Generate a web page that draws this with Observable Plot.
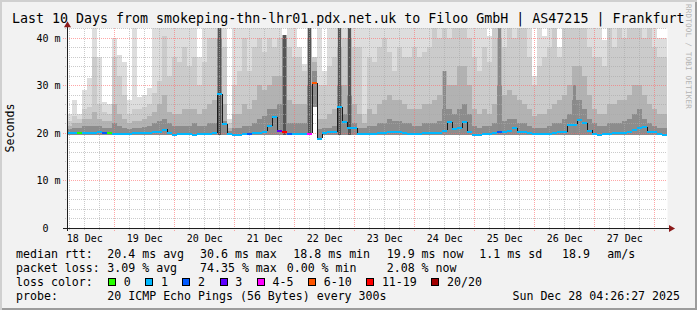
<!DOCTYPE html>
<html><head><meta charset="utf-8">
<script src="https://cdn.jsdelivr.net/npm/d3@7"></script>
<script src="https://cdn.jsdelivr.net/npm/@observablehq/plot@0.6"></script>
<style>
html,body{margin:0;padding:0;background:#f2f2f2;}
#frame{position:relative;width:697px;height:310px;background:#f2f2f2;overflow:hidden;font-family:"DejaVu Sans Mono",monospace;color:#000;
 box-shadow: inset 2px 2px 0 #d0d0d0, inset -2px -2px 0 #9c9c9c;}
#chart{position:absolute;left:0;top:0;}
.t{position:absolute;white-space:pre;}
#title{left:12px;top:11px;font-size:13.3px;line-height:16px;}
.lg{font-size:11.6px;line-height:14px;}
.box{position:absolute;width:6px;height:6px;border:1px solid #000;}
#ylab{left:-40px;top:121px;width:100px;height:14px;text-align:center;font-size:11.6px;line-height:14px;transform:rotate(-90deg);}
#rrd{left:684px;top:4px;font-size:7.6px;color:#b4b4b4;writing-mode:vertical-rl;letter-spacing:0.2px;}
</style></head>
<body>
<div id="frame">
  <div id="chart"></div>
</div>
<script>
// ---------- text ----------
const titleText = "Last 10 Days from smokeping-thn-lhr01.pdx.net.uk to Filoo GmbH | AS47215 | Frankfurt";
const yAxisTitle = "Seconds";
const dayLabels = ["18 Dec","19 Dec","20 Dec","21 Dec","22 Dec","23 Dec","24 Dec","25 Dec","26 Dec","27 Dec"];
const yTicks = [0, 10, 20, 30, 40];
const yTickLabels = ["0\u00a0\u00a0", "10 m", "20 m", "30 m", "40 m"];
const rttStats = ["20.4 ms avg", "30.6 ms max", "18.8 ms min", "19.9 ms now", "1.1 ms sd", "18.9", "am/s"];
const lossStats = ["3.09 % avg", "74.35 % max", "0.00 % min", "2.08 % now"];
const lossLabels = ["0", "1", "2", "3", "4-5", "6-10", "11-19", "20/20"];
const lossColors = ["#26ff00", "#00b8ff", "#0059ff", "#5e00ff", "#ff00ff", "#ff5500", "#ff0000", "#a10000"];
const lossUpper = [0, 1, 2, 3, 5, 10, 19, 20];
const probeText = "20 ICMP Echo Pings (56 Bytes) every 300s";
const stampText = "Sun Dec 28 04:26:27 2025";

// ---------- data: 2-hour bins, values in ms ----------
const smokeLow = [
 19.5,19.5,19.5,19.5,19.5,19.5,19.5,19.5,19.5,19.5,
 19.5,19.5,19.5,19.5,19.5,19.5,19.5,19.5,19.5,19.5,19.5,19.5,
 19.5,19.5,19.5,19.5,19.5,19.5,19.5,19.5,19.5,19.5,19.5,19.5,
 19.5,19.5,19.5,19.5,19.5,19.5,19.5,19.5,19.5,19.5,19.5,19.5,
 19.5,19.5,19.5,25.5,18.6,19.5,19.5,19.5,19.5,19.5,19.5,19.5,
 19.5,19.5,19.5,19.5,19.5,19.5,19.5,19.5,19.5,19.5,19.5,19.5,
 19.5,19.5,19.5,19.5,19.5,19.5,19.5,19.5,19.5,19.5,19.5,19.5,
 19.5,19.5,19.5,19.5,19.5,19.5,19.5,19.5,19.5,19.5,19.5,19.5,
 19.5,19.5,19.5,19.5,19.5,19.5,19.5,19.5,19.5,19.5,19.5,19.5,
 19.5,19.5,19.5,19.5,19.5,19.5,19.5,19.5,19.5,19.5,19.5,19.5,
 19.5,19.5];
const smokeMax = [
 24,27,24,29,31.5,42,36,26.5,26,40,
 36.5,35,27,42,27.5,28,29.5,42,42,42,42,42,
 42,42,42,42,36,42,42,42,42,42,23,42,
 42,42,42,42,42,42,42,42,42,40.6,42,42,
 38,34.5,42,36,42,33,42,42,42,42,42,42,
 42,42,42,42,42,42,42,42,42,42,42,42,
 42,42,42,42,42,42,42,42,42,42,42,42,
 42,42,40.5,42,42,42,42,42,42,42,42,32,
 42,40.5,42,42,38,42,42,42,42,42,42,42,
 42,39.5,42,42,42,42,42,42,42,42,42,42,
 40,40];
const smokeP2 = [
 22.5,23.5,23,25,25.5,36,26,24.5,24,36,
 32,28,24,25,25,25.5,26,28.5,31,40.5,32,36,
 35,38,34,36,30,35,40,40,42,38,22,30,
 33,40,33,38,40,37,40,38,40,40.6,38,36,
 36,33,42,36,30,30,34,36,42,40,42,38,
 38,24,36,35,38,40,37,33,38,36,36,38,
 36,37,38,42,40,42,40,42,42,42,40,36,
 33,38,35,42,42,38,42,40,42,42,36,30,
 34,36,38,42,36,42,42,42,42,42,38,36,
 36,34,42,38,42,40,42,42,42,40,42,38,
 36,36];
const smokeP3 = [
 21.5,22,22,23,23,24.5,23,22.5,22.5,26,
 24,23,22,22.5,22.5,23,23.5,24.5,26,28,24.5,24,
 24,25,25,25,24,25,26,27,42,26,21,24,
 24,26,25,27,30,29,30,32,32,40.6,27,26,
 26,26,40,35,23,23,24,25,38,30,40,26,
 24,22,25,24,26,27,28,27,27,26,25,25,
 25,26,26,27,28,33,30,30,34,34,30,25,
 24,25,24,26,40,28,29,28,27,26,25,23.5,
 24,24,25,26,27,28,30,34,34,32,28,25,
 24,24,26,26,27,27,28,30,30,28,26,25,
 24,24];
const smokeP4 = [
 20.8,21,21,21.5,21.5,21.5,21.5,21,21,22,
 21.5,21,20.8,21,21,21.3,21.5,22,22.5,23,22,21.5,
 21.5,21.5,21.5,22,21.5,21.5,22,22,40,22.5,20.5,21,
 21,21.5,21.5,22,23,23.5,25,25,26,40,22,22,
 22,22,30,33,20.8,21,21,21.5,30,24,28,22,
 21,21,21.5,21.5,22,22,23,22.5,22.5,22,22,21.5,
 21.5,22,22,22,22.5,25,25,24,25,26,24,21.5,
 21,21.5,21.5,22,30,22.5,23,23,22,22,21.5,21,
 21,21,21.5,22,22,23,24,27,27,25,23,22,
 21.5,21.5,22,22,22,22.5,23,24,25,23,22,21.5,
 21,21];
const medianRtt = [
 20.0,20.0,20.1,20.1,20.1,20.2,20.3,20.2,20.0,19.8,
 19.8,19.8,19.8,20.0,20.0,20.0,20.1,20.3,20.3,20.8,20.0,19.7,
 19.8,19.8,19.8,19.7,19.8,19.8,19.9,20.0,28.3,21.9,19.8,19.7,
 19.7,19.8,19.9,20.0,20.2,20.4,21.5,23.4,20.6,20.3,19.9,19.9,
 19.9,19.9,19.9,30.6,18.9,20.2,20.4,20.3,25.5,22.4,21.2,21.1,
 19.9,19.9,19.9,19.9,20.0,20.2,20.4,20.4,20.3,20.0,19.9,19.9,
 19.9,20.0,20.2,20.1,20.2,20.6,22.4,21.0,21.1,22.4,20.4,19.7,
 19.7,19.8,19.8,20.2,20.4,20.3,20.5,21.1,20.3,20.3,20.2,19.8,
 19.8,19.8,19.9,20.2,20.3,20.3,21.8,21.8,22.8,22.2,20.6,19.9,
 19.7,19.8,19.9,20.1,20.0,20.1,20.3,20.8,21.2,21.3,20.4,20.3,
 19.8,19.7];
const lossCount = [
 1,1,0,1,1,1,1,2,0,1,
 1,1,1,1,1,1,1,1,1,1,1,1,
 1,1,1,1,1,1,1,1,1,1,1,1,
 1,1,2,1,1,1,1,1,3,15,2,1,
 1,1,5,8,1,1,1,1,1,1,1,1,
 1,1,1,1,1,1,1,1,1,1,1,1,
 1,1,1,1,1,1,1,1,1,1,1,1,
 1,1,1,1,2,1,1,1,1,1,1,1,
 1,1,1,1,1,1,1,1,1,1,1,1,
 1,1,1,1,1,1,1,1,1,1,1,1,
 1,1];
const darkBins = [30, 43, 48, 54, 56];
const darkTop = [42, 40.6, 42, 42, 42];
const midDarkBins = [75, 86, 101];
const midDarkTop = [33, 42, 30];

// ---------- build ----------
const HOUR = 3600e3;
const tStart = Date.UTC(2025, 11, 18, 5, 6);
const tEnd = tStart + 240 * HOUR;
const PX = 24 * 60e3; // one pixel of time
const lossColor = c => lossColors[lossUpper.findIndex(u => c <= u)];

const bins = medianRtt.map((m, k) => ({
  t1: new Date(tStart + k * 2 * HOUR), t2: new Date(tStart + (k + 1) * 2 * HOUR),
  lo: smokeLow[k], l1: smokeMax[k], l2: smokeP2[k], l3: smokeP3[k], l4: smokeP4[k],
  med: m, color: lossColor(lossCount[k])
}));
const darks = darkBins.map((k, i) => ({t1: bins[k].t1, t2: bins[k].t2, lo: bins[k].lo, hi: darkTop[i]}));
const midDarks = midDarkBins.map((k, i) => ({t1: bins[k].t1, t2: bins[k].t2, lo: bins[k].lo, hi: midDarkTop[i]}));
const steps = [];
for (let k = 1; k < bins.length; k++) {
  if (Math.abs(bins[k].med - bins[k - 1].med) > 0.7) steps.push({t: bins[k].t1, a: bins[k - 1].med, b: bins[k].med});
}

const midnights = d3.utcDay.range(new Date(tStart), new Date(tEnd));
const sixHours = d3.utcHour.every(6).range(new Date(tStart), new Date(tEnd)).filter(d => d.getUTCHours() !== 0);
const noons = dayLabels.map((s, i) => new Date(Date.UTC(2025, 11, 18 + i, 12)));
const majorY = [10, 20, 30, 40];
const minorY = [2,4,6,8,12,14,16,18,22,24,26,28,32,34,36,38,42];

const crisp = {shapeRendering: "crispEdges"};
const chart = Plot.plot({
  width: 697, height: 245,
  marginLeft: 67, marginRight: 30, marginTop: 28, marginBottom: 17,
  x: {type: "utc", domain: [new Date(tStart), new Date(tEnd)]},
  y: {domain: [0, 42.1]},
  style: {background: "transparent", fontFamily: "DejaVu Sans Mono", fontSize: "10px", color: "#000", overflow: "visible"},
  marks: [
    Plot.frame({fill: "#ffffff", stroke: null}),
    Plot.rect(bins, {x1: "t1", x2: "t2", y1: "lo", y2: "l1", fill: "#dddddd", ...crisp}),
    Plot.rect(bins, {x1: "t1", x2: "t2", y1: "lo", y2: "l2", fill: "#cbcbcb", ...crisp}),
    Plot.rect(bins, {x1: "t1", x2: "t2", y1: "lo", y2: "l3", fill: "#b2b2b2", ...crisp}),
    Plot.rect(bins, {x1: "t1", x2: "t2", y1: "lo", y2: "l4", fill: "#8c8c8c", ...crisp}),
    Plot.rect(midDarks, {x1: "t1", x2: "t2", y1: "lo", y2: "hi", fill: "#8a8a8a", insetLeft: 1, insetRight: 1, ...crisp}),
    Plot.rect(darks, {x1: "t1", x2: "t2", y1: "lo", y2: "hi", fill: "#555555", insetLeft: 1, insetRight: 1, ...crisp}),
    // minor grid
    Plot.ruleY(minorY, {x1: new Date(tStart - 2 * PX), x2: new Date(tEnd), stroke: "#a8a8a8", strokeOpacity: 0.6, strokeDasharray: "1,1", ...crisp}),
    Plot.ruleX(sixHours, {y1: -0.42, y2: 42.1, stroke: "#a8a8a8", strokeOpacity: 0.6, strokeDasharray: "1,1", ...crisp}),
    // major grid
    Plot.ruleY(majorY, {x1: new Date(tStart - 4 * PX), x2: new Date(tEnd), stroke: "#ff6a6a", strokeOpacity: 0.6, strokeDasharray: "1,1", ...crisp}),
    Plot.ruleX(midnights, {y1: -0.63, y2: 42.1, stroke: "#ff6a6a", strokeOpacity: 0.6, strokeDasharray: "1,1", ...crisp}),
    // median
    Plot.ruleX(steps, {x: "t", y1: "a", y2: "b", stroke: "#1a1a1a", strokeWidth: 1, ...crisp}),
    Plot.ruleY(bins, {x1: "t1", x2: "t2", y: "med", stroke: "color", strokeWidth: 2, ...crisp}),
    // axes
    Plot.ruleY([0], {x1: new Date(tStart - 4 * PX), x2: new Date(tEnd + 2 * PX), stroke: "#1f1f1f", ...crisp}),
    Plot.ruleX([new Date(tStart)], {y1: -0.63, y2: 42.6, stroke: "#1f1f1f", ...crisp}),
    Plot.dot([{x: new Date(tEnd + 3.5 * PX), y: 0}], {x: "x", y: "y", symbol: "triangle", r: 2.6, fill: "#8b1a1a", stroke: null, rotate: 90}),
    Plot.dot([{x: new Date(tStart), y: 42.1 + 3.3 / 4.75}], {x: "x", y: "y", symbol: "triangle", r: 2.6, fill: "#8b1a1a", stroke: null}),
    Plot.axisY({ticks: yTicks, tickFormat: d => yTickLabels[yTicks.indexOf(d)], tickSize: 0, tickPadding: 7, fill: "#000"}),
    Plot.axisX({ticks: noons, tickFormat: d => dayLabels[noons.findIndex(n => +n === +d)], tickSize: 0, tickPadding: 6, fill: "#000"})
  ]
});
document.getElementById("chart").appendChild(chart);

// ---------- texts ----------
const frame = document.getElementById("frame");
function addText(str, x, y, cls, id) {
  const d = document.createElement("div");
  d.className = "t " + (cls || "");
  if (id) d.id = id;
  d.textContent = str;
  if (x != null) d.style.left = x + "px";
  if (y != null) d.style.top = y + "px";
  frame.appendChild(d);
  return d;
}
addText(titleText, null, null, "", "title");
addText(yAxisTitle, null, null, "", "ylab");
addText("RRDTOOL / TOBI OETIKER", null, null, "", "rrd");

const rowTop = [247.3, 261.3, 275.3, 289.3];
addText("median rtt:", 16, rowTop[0], "lg");
const rttX = [107.3, 200, 293.3, 386.7, 479.3, 562, 607.3];
rttStats.forEach((s, i) => addText(s, rttX[i], rowTop[0], "lg"));
addText("packet loss:", 16, rowTop[1], "lg");
const lossX = [107.3, 200, 286.7, 386.7];
lossStats.forEach((s, i) => addText(s, lossX[i], rowTop[1], "lg"));
addText("loss color:", 16, rowTop[2], "lg");
let lx = 108;
lossLabels.forEach((s, i) => {
  const b = document.createElement("div");
  b.className = "box";
  b.style.left = lx + "px"; b.style.top = "278px"; b.style.background = lossColors[i];
  frame.appendChild(b);
  const tx = lx + 15.7;
  addText(s, tx, rowTop[2], "lg");
  lx = tx + s.length * 7 + 14.5;
});
addText("probe:", 16, rowTop[3], "lg");
addText(probeText, 107.3, rowTop[3], "lg");
const st = addText(stampText, null, rowTop[3], "lg");
st.style.right = (697 - 680) + "px";
</script>
</body></html>
